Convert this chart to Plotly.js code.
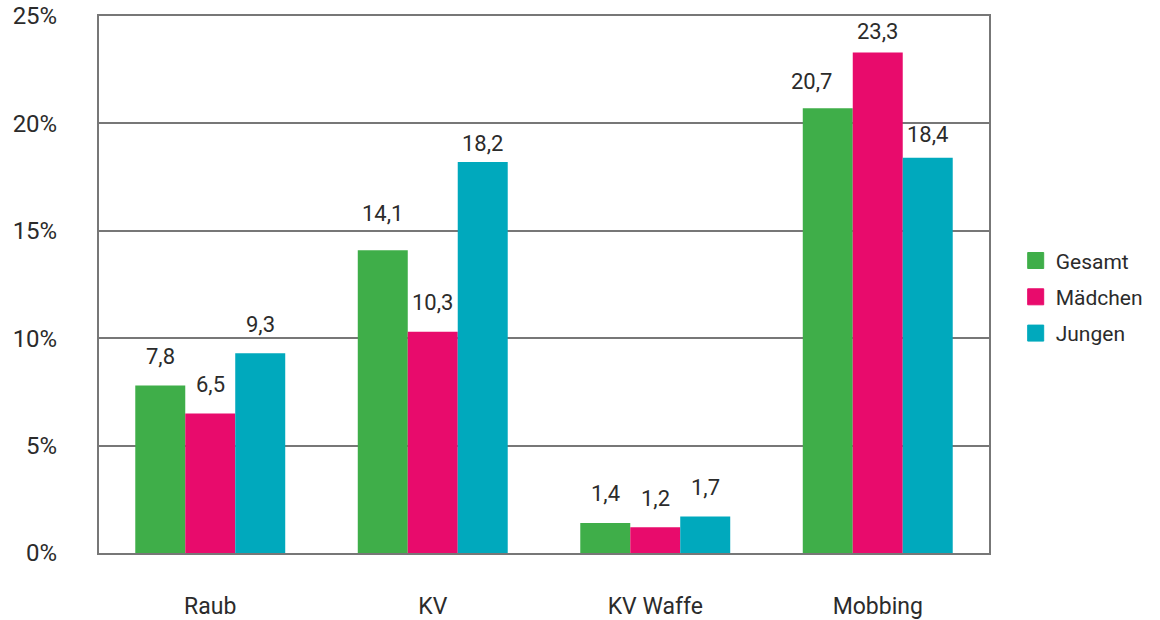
<!DOCTYPE html>
<html>
<head>
<meta charset="utf-8">
<script src="https://cdn.plot.ly/plotly-3.0.1.min.js"></script>
<style>html,body{margin:0;padding:0;background:#fff;}#chart{width:1160px;height:620px;}</style>
</head>
<body>
<div id="chart"></div>
<script>
const categories = ["Raub", "KV", "KV Waffe", "Mobbing"];
const seriesNames = ["Gesamt", "Mädchen", "Jungen"];
const gesamt = [7.8, 14.1, 1.4, 20.7];
const maedchen = [6.5, 10.3, 1.2, 23.3];
const jungen = [9.3, 18.2, 1.7, 18.4];
const yTickVals = [0, 5, 10, 15, 20, 25];
const yTickText = ["0%", "5%", "10%", "15%", "20%", "25%"];

const colors = ["#3fae49", "#e80b6c", "#00a9bd"];
const series = [gesamt, maedchen, jungen];
const FONT = "Roboto, Noto Sans, sans-serif";
const TXT = "#2b2b2b";
const bargap = 0.326;
const barW = (1 - bargap) / 3;

const traces = series.map((vals, j) => ({
  type: "bar",
  name: seriesNames[j],
  x: categories.map((c, i) => i),
  y: vals,
  marker: {color: colors[j], line: {width: 0}},
  showlegend: false,
  hoverinfo: "skip"
}));
// legend entries with square swatches
seriesNames.forEach((n, j) => {
  traces.push({
    type: "scatter", mode: "markers", name: n,
    x: [null], y: [null], legendgroup: "g" + j,
    marker: {symbol: "square", size: 16, color: colors[j], line: {width: 1, color: colors[j]}},
    hoverinfo: "skip"
  });
});

const fmt = v => v.toFixed(1).replace(".", ",");
// small label offsets (styling only)
const extraY = [[0, 8, 0, -2], [0, 0, 0, -8], [0, -10, 0, -6]];
const extraX = [[0, 0, 0, -16], [0, 0, 0, 0], [0, 0, 0, 0]];
const annotations = [];
series.forEach((vals, j) => {
  vals.forEach((v, i) => {
    annotations.push({
      x: i + (j - 1) * barW, y: v, xref: "x", yref: "y",
      text: fmt(v), showarrow: false,
      yanchor: "middle", xanchor: "center",
      yshift: 29 + extraY[j][i], xshift: extraX[j][i],
      font: {family: FONT, size: 22, color: TXT}
    });
  });
});

const layout = {
  width: 1160, height: 620,
  margin: {l: 99, r: 171, t: 16, b: 67},
  paper_bgcolor: "#fff", plot_bgcolor: "#fff",
  barmode: "group", bargap: bargap, bargroupgap: 0,
  showlegend: true,
  legend: {x: 1.03, y: 0.477, xanchor: "left", yanchor: "middle",
    font: {family: FONT, size: 21, color: TXT}, tracegroupgap: 6,
    traceorder: "grouped", itemsizing: "trace", borderwidth: 0},
  xaxis: {
    type: "linear", range: [-0.5, 3.5],
    tickvals: [0, 1, 2, 3], ticktext: categories,
    showgrid: false, zeroline: false, ticks: "",
    showline: true, mirror: true, linecolor: "#777", linewidth: 2,
    tickfont: {family: FONT, size: 23, color: TXT},
    ticklabelstandoff: 31
  },
  yaxis: {
    range: [0, 25], tickvals: yTickVals, ticktext: yTickText,
    showgrid: true, gridcolor: "#777", gridwidth: 2, zeroline: false, ticks: "",
    showline: true, mirror: true, linecolor: "#777", linewidth: 2,
    tickfont: {family: FONT, size: 24, color: TXT},
    ticklabelstandoff: 35
  },
  annotations: annotations
};

Plotly.newPlot("chart", traces, layout, {displayModeBar: false, staticPlot: true});
</script>
</body>
</html>
